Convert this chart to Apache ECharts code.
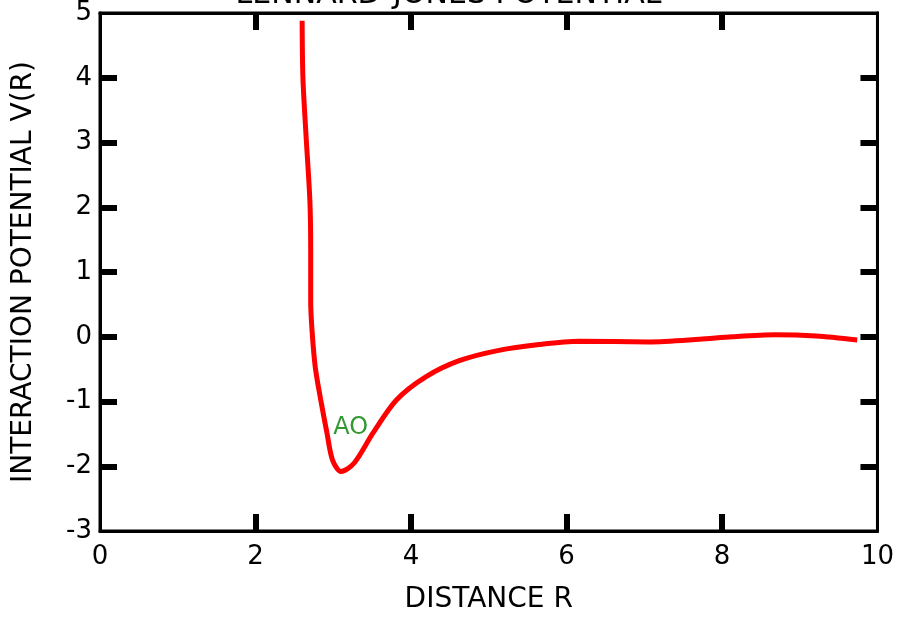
<!DOCTYPE html>
<html lang="en">
<head>
  <meta charset="UTF-8">
  <title>Interaction potential</title>
  <script src="https://cdn.jsdelivr.net/npm/echarts@6/dist/echarts.min.js"></script>
  <style>
    html, body { margin: 0; padding: 0; background: #fff; }
    #main { width: 897px; height: 619px; }
  </style>
</head>
<body>
<div id="main"></div>
<script>
  // curve (distance R, potential V(R))
  var distance = [2.60, 2.61, 2.65, 2.70, 2.71, 2.71, 2.73, 2.77, 2.84, 2.92, 2.99, 3.10,
                  3.27, 3.51, 3.81, 4.19, 4.62, 5.13, 5.65, 6.16, 7.06, 7.71, 8.13, 8.69, 9.21, 9.74];
  var potential = [4.88, 4.00, 3.11, 2.09, 1.32, 0.55, 0.05, -0.48, -0.98, -1.49, -1.90, -2.08,
                   -1.95, -1.49, -0.98, -0.62, -0.37, -0.21, -0.12, -0.07, -0.08, -0.04, 0.00, 0.03, 0.01, -0.05];

  // tick marks (inside the frame)
  var xTickMarks = [2, 4, 6, 8];
  var yTickMarks = [-2, -1, 0, 1, 2, 3, 4];

  // the "AO" note
  var noteText = 'AO';
  var notePoint = [3.0, -1.40];

  var titleText = 'LENNARD-JONES POTENTIAL';
  var font = 'DejaVu Sans';

  var points = distance.map(function (r, i) { return [r, potential[i]]; });

  var myChart = echarts.init(document.getElementById('main'));

  var tickStyle = { show: true, inside: true, length: 17, lineStyle: { color: '#000', width: 6 } };
  var frameLine = { show: true, onZero: false, lineStyle: { color: '#000', width: 3 } };

  myChart.setOption({
    animation: false,
    title: {
      text: titleText,
      left: 'center',
      top: -25,
      textStyle: { fontFamily: font, fontSize: 30, fontWeight: 'normal', color: '#000',
                   textBorderColor: '#fff', textBorderWidth: 3 }
    },
    grid: {
      left: 100, right: 19, top: 11, bottom: 87,
      show: true, borderColor: '#000', borderWidth: 3, backgroundColor: '#fff'
    },
    xAxis: [
      {
        type: 'value', min: 0, max: 10, interval: 2, position: 'bottom',
        name: 'DISTANCE R', nameLocation: 'middle', nameGap: 55,
        nameTextStyle: { fontFamily: font, fontSize: 28, color: '#000' },
        axisLine: frameLine,
        axisTick: Object.assign({ customValues: xTickMarks }, tickStyle),
        axisLabel: { fontFamily: font, fontSize: 26, color: '#000', margin: 13 },
        splitLine: { show: false }
      },
      {
        type: 'value', min: 0, max: 10, interval: 2, position: 'top',
        axisLine: frameLine,
        axisTick: Object.assign({ customValues: xTickMarks }, tickStyle),
        axisLabel: { show: false },
        splitLine: { show: false }
      }
    ],
    yAxis: [
      {
        type: 'value', min: -3, max: 5, interval: 1, position: 'left',
        name: 'INTERACTION POTENTIAL V(R)', nameLocation: 'middle', nameGap: 62,
        nameTextStyle: { fontFamily: font, fontSize: 28, color: '#000' },
        axisLine: frameLine,
        axisTick: Object.assign({ customValues: yTickMarks }, tickStyle),
        axisLabel: { fontFamily: font, fontSize: 26, color: '#000', margin: 8 },
        splitLine: { show: false }
      },
      {
        type: 'value', min: -3, max: 5, interval: 1, position: 'right',
        axisLine: frameLine,
        axisTick: Object.assign({ customValues: yTickMarks }, tickStyle),
        axisLabel: { show: false },
        splitLine: { show: false }
      }
    ],
    series: [
      {
        name: 'V(R)',
        type: 'line',
        data: points,
        smooth: 0.3,
        showSymbol: false,
        lineStyle: { color: '#ff0000', width: 5 },
        z: 3
      },
      {
        name: 'note',
        type: 'scatter',
        data: [notePoint],
        symbolSize: 0,
        label: {
          show: true, position: 'right', distance: 0,
          formatter: noteText,
          fontFamily: font, fontSize: 24, color: '#008000'
        },
        z: 4
      }
    ]
  });
</script>
</body>
</html>
